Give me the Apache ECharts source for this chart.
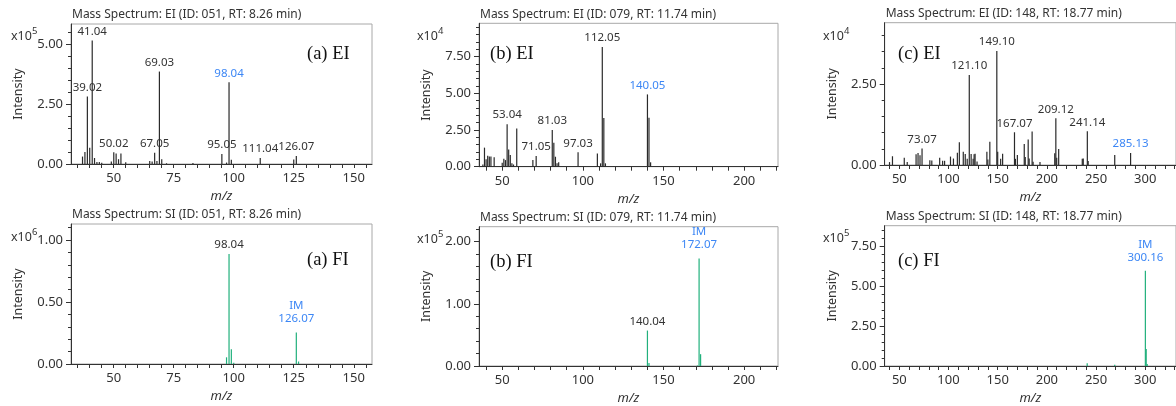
<!DOCTYPE html>
<html>
<head>
<meta charset="utf-8">
<script src="https://cdn.jsdelivr.net/npm/echarts@6/dist/echarts.min.js"></script>
<style>
html,body{margin:0;padding:0;background:#fff;}
#chart{width:1176px;height:406px;}
</style>
</head>
<body>
<div id="chart"></div>
<script>
// ---------- DATA ----------
// (a) EI, intensity x10^5
const aEI_mz  = [37, 38, 39.02, 40, 41.04, 42, 43, 44, 45, 49, 50.02, 51, 52, 53, 55, 65, 66, 67.05, 68, 69.03, 70, 72, 83, 95.05, 97, 98.04, 99, 111.04, 125, 126.07];
const aEI_int = [0.31, 0.5, 2.81, 0.68, 5.14, 0.25, 0.08, 0.08, 0.05, 0.1, 0.49, 0.44, 0.2, 0.44, 0.07, 0.13, 0.1, 0.47, 0.13, 3.85, 0.2, 0.03, 0.04, 0.42, 0.06, 3.40, 0.18, 0.25, 0.19, 0.33];
const aEI_labels = ['39.02', '41.04', '50.02', '67.05', '69.03', '95.05', '98.04', '111.04', '126.07'];
const aEI_blue = ['98.04'];
// (a) FI, intensity x10^6
const aFI_mz  = [97, 98.04, 99, 100, 126.07, 127];
const aFI_int = [0.054, 0.887, 0.12, 0.01, 0.255, 0.02];
const aFI_labels = ['98.04'];
const aFI_im = ['126.07'];
// (b) EI, intensity x10^4
const bEI_mz  = [38, 39, 40, 41, 42, 43, 45, 50, 51, 52, 53.04, 54, 55, 56, 57, 59, 69, 71.05, 81.03, 82, 83, 84, 85, 97.03, 98, 109, 111, 112.05, 113, 114, 140.05, 141, 142];
const bEI_int = [0.15, 1.3, 0.5, 0.75, 0.7, 0.7, 0.64, 0.27, 0.55, 0.45, 2.9, 1.18, 0.8, 0.23, 0.15, 2.6, 0.45, 0.73, 2.5, 1.64, 0.68, 0.23, 0.3, 0.98, 0.05, 0.9, 0.23, 8.16, 3.32, 0.23, 4.93, 3.34, 0.3];
const bEI_labels = ['53.04', '71.05', '81.03', '97.03', '112.05', '140.05'];
const bEI_blue = ['140.05'];
// (b) FI, intensity x10^5
const bFI_mz  = [140.04, 141, 171, 172.07, 173];
const bFI_int = [0.57, 0.05, 0.01, 1.73, 0.19];
const bFI_labels = ['140.04'];
const bFI_im = ['172.07'];
// (c) EI, intensity x10^4
const cEI_mz  = [40, 43, 55, 58, 67, 69, 71, 73.07, 81, 83, 91, 94, 96, 102, 105, 109, 111, 115, 117, 119, 121.10, 123, 125, 126, 127, 129, 139, 140, 142, 149.10, 150, 153, 155, 167.07, 168, 170, 177, 178, 181, 182, 185, 186, 193, 208, 209.12, 210, 212, 236, 237, 241.14, 242, 269, 285.13];
const cEI_int = [0.09, 0.27, 0.22, 0.09, 0.33, 0.37, 0.3, 0.51, 0.15, 0.14, 0.22, 0.13, 0.13, 0.26, 0.2, 0.38, 0.7, 0.41, 0.34, 0.19, 2.78, 0.34, 0.19, 0.33, 0.35, 0.11, 0.41, 0.17, 0.72, 3.52, 0.41, 0.19, 0.35, 1.01, 0.19, 0.31, 0.65, 0.25, 0.79, 0.2, 1.03, 0.1, 0.09, 0.36, 1.44, 0.22, 0.49, 0.19, 0.2, 1.04, 0.12, 0.31, 0.37];
const cEI_labels = ['73.07', '121.10', '149.10', '167.07', '209.12', '241.14', '285.13'];
const cEI_blue = ['285.13'];
// (c) FI, intensity x10^5
const cFI_mz  = [241, 269, 300.16, 301, 302];
const cFI_int = [0.17, 0.08, 5.98, 1.06, 0.12];
const cFI_labels = [];
const cFI_im = ['300.16'];

// tick labels
const aX_ticks = [50, 75, 100, 125, 150];
const bX_ticks = [50, 100, 150, 200];
const cX_ticks = [50, 100, 150, 200, 250, 300];
const aEI_yTicks = [0, 2.5, 5.0];
const aFI_yTicks = [0, 0.5, 1.0];
const bEI_yTicks = [0, 2.5, 5.0, 7.5];
const bFI_yTicks = [0, 1.0, 2.0];
const cEI_yTicks = [0, 2.5];
const cFI_yTicks = [0, 2.5, 5.0, 7.5];

const titles = [
  'Mass Spectrum: EI (ID: 051, RT: 8.26 min)',
  'Mass Spectrum: EI (ID: 079, RT: 11.74 min)',
  'Mass Spectrum: EI (ID: 148, RT: 18.77 min)',
  'Mass Spectrum: SI (ID: 051, RT: 8.26 min)',
  'Mass Spectrum: SI (ID: 079, RT: 11.74 min)',
  'Mass Spectrum: SI (ID: 148, RT: 18.77 min)'
];
const panelNames = ['(a) EI', '(b) EI', '(c) EI', '(a) FI', '(b) FI', '(c) FI'];
const exponents = ['5', '4', '4', '6', '5', '5'];

// ---------- LAYOUT ----------
const FONT = 'Noto Sans';
const TXT = '#333';
const BLUE = '#3d87f5';
const GREEN = '#21b07c';
const EIBAR = '#2a2a2a';

const panels = [
  {grid:{left:71, top:24, width:301, height:140}, x:[32.2,157.6], xt:aX_ticks, step:5, yMax:5.83, yt:aEI_yTicks, ystep:0.5,
   mz:aEI_mz, it:aEI_int, labels:aEI_labels, blue:aEI_blue, im:[], color:EIBAR,
   name:{left:307, top:45}, exp:{left:11, top:30}},
  {grid:{left:479, top:23.3, width:299, height:143.4}, x:[35.6,221.0], xt:bX_ticks, step:10, yMax:9.78, yt:bEI_yTicks, ystep:0.5,
   mz:bEI_mz, it:bEI_int, labels:bEI_labels, blue:bEI_blue, im:[], color:EIBAR,
   name:{left:490, top:45}, exp:{left:417, top:30}},
  {grid:{left:884.7, top:22.7, width:300, height:142.3}, x:[35.1,331.3], xt:cX_ticks, step:10, yMax:4.39, yt:cEI_yTicks, ystep:0.5,
   mz:cEI_mz, it:cEI_int, labels:cEI_labels, blue:cEI_blue, im:[], color:EIBAR,
   name:{left:898, top:45}, exp:{left:823, top:30}},
  {grid:{left:71, top:224, width:301, height:140}, x:[32.2,157.6], xt:aX_ticks, step:5, yMax:1.13, yt:aFI_yTicks, ystep:0.1,
   mz:aFI_mz, it:aFI_int, labels:aFI_labels, blue:[], im:aFI_im, color:GREEN,
   name:{left:307, top:251}, exp:{left:11, top:231}},
  {grid:{left:479, top:226.7, width:299, height:142.3}, x:[35.6,221.0], xt:bX_ticks, step:10, yMax:2.24, yt:bFI_yTicks, ystep:0.2,
   mz:bFI_mz, it:bFI_int, labels:bFI_labels, blue:[], im:bFI_im, color:GREEN,
   name:{left:490, top:253}, exp:{left:417, top:233}},
  {grid:{left:884.7, top:225.7, width:300, height:142}, x:[35.1,331.3], xt:cX_ticks, step:10, yMax:8.81, yt:cFI_yTicks, ystep:0.5,
   mz:cFI_mz, it:cFI_int, labels:cFI_labels, blue:[], im:cFI_im, color:GREEN,
   name:{left:898, top:252}, exp:{left:823, top:232}}
];

function stepValues(from, to, step, skip) {
  const out = [];
  for (let k = Math.ceil(from / step - 1e-9); k * step <= to + 1e-9; k++) {
    const v = +(k * step).toFixed(6);
    if (!skip || !skip.some(s => Math.abs(s - v) < 1e-6)) out.push(v);
  }
  return out;
}

function buildData(p) {
  return p.mz.map((m, i) => {
    const key = p.labels.find(l => Number(l) === m);
    const imKey = p.im.find(l => Number(l) === m);
    const item = {value: [m, p.it[i]]};
    if (imKey) {
      item.label = {show:true, position:'top', distance:7, formatter:'IM\n' + imKey, color:BLUE,
        fontSize:11.5, lineHeight:13, fontFamily:FONT, align:'center'};
    } else if (key) {
      item.label = {show:true, position:'top', distance:3, formatter:key,
        color: p.blue.includes(key) ? BLUE : TXT, fontSize:11.5, fontFamily:FONT};
    }
    return item;
  });
}

const grid = [], xAxis = [], yAxis = [], series = [], title = [];
panels.forEach((p, i) => {
  grid.push(Object.assign({show:true, borderColor:'#a8a8a8', borderWidth:1, containLabel:false}, p.grid));
  xAxis.push({
    type:'value', gridIndex:i, min:p.x[0], max:p.x[1],
    axisLine:{show:true, onZero:false, lineStyle:{color:'#333', width:1}},
    axisTick:{show:true, customValues:stepValues(p.x[0], p.x[1], p.step), length:4, lineStyle:{color:'#333'}},
    axisLabel:{customValues:p.xt, formatter:v => String(v), fontSize:13, color:TXT, margin:8, fontFamily:FONT},
    splitLine:{show:false},
    name:'m/z', nameLocation:'middle', nameGap:26,
    nameTextStyle:{fontStyle:'italic', fontSize:13, color:TXT, fontFamily:FONT}
  });
  yAxis.push({
    type:'value', gridIndex:i, min:0, max:p.yMax, position:'left',
    axisLine:{show:true, onZero:false, lineStyle:{color:'#333', width:1}},
    axisTick:{show:true, customValues:p.yt, length:5, lineStyle:{color:'#333'}},
    axisLabel:{customValues:p.yt, formatter:v => v.toFixed(2), fontSize:13, color:TXT, margin:8, fontFamily:FONT},
    splitLine:{show:false},
    name:'Intensity', nameLocation:'middle', nameGap:46, nameRotate:90,
    nameTextStyle:{fontSize:12.5, color:TXT, fontFamily:FONT}
  });
  yAxis.push({
    type:'value', gridIndex:i, min:0, max:p.yMax, position:'left', offset:0,
    axisLine:{show:false},
    axisTick:{show:true, customValues:stepValues(0, p.yMax, p.ystep, p.yt), length:3, lineStyle:{color:'#333'}},
    axisLabel:{show:false}, splitLine:{show:false}
  });
  series.push({
    type:'bar', xAxisIndex:i, yAxisIndex:2 * i, barWidth:1.2,
    itemStyle:{color:p.color}, data:buildData(p), animation:false, silent:true
  });
  title.push({text:titles[i], left:p.grid.left + 1, top:p.grid.top - 15, padding:0,
    textStyle:{fontSize:12, fontWeight:'normal', color:TXT, fontFamily:FONT}});
  title.push({text:panelNames[i], left:p.name.left, top:p.name.top, padding:0,
    textStyle:{fontSize:18.5, fontWeight:'normal', color:'#111', fontFamily:'Liberation Serif'}});
  title.push({text:'x10', left:p.exp.left, top:p.exp.top, padding:0,
    textStyle:{fontSize:12.5, fontWeight:'normal', color:TXT, fontFamily:FONT}});
  title.push({text:exponents[i], left:p.exp.left + 21, top:p.exp.top - 4, padding:0,
    textStyle:{fontSize:9.5, fontWeight:'normal', color:TXT, fontFamily:FONT}});
});

const chart = echarts.init(document.getElementById('chart'), null, {renderer:'canvas'});
chart.setOption({animation:false, backgroundColor:'#fff', title, grid, xAxis, yAxis, series});
</script>
</body>
</html>
